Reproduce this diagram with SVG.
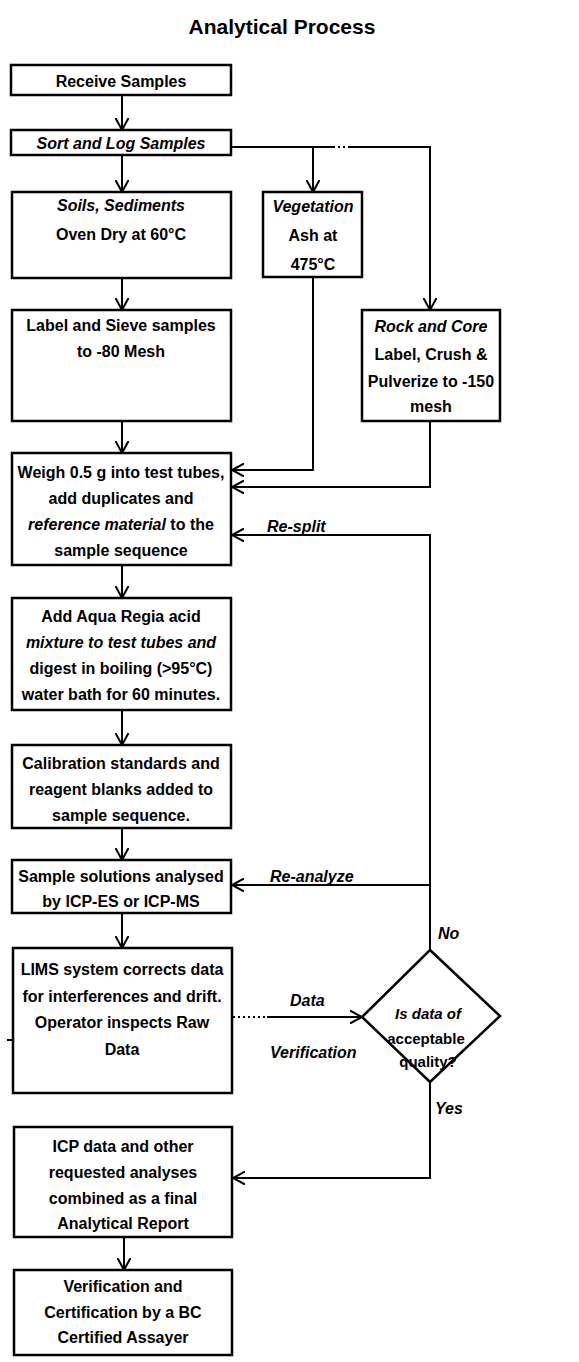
<svg xmlns="http://www.w3.org/2000/svg" width="579" height="1362" viewBox="0 0 579 1362">
<defs>
<style>
.box{fill:#fff;stroke:#000;stroke-width:2.5}
.t{font-family:"Liberation Sans",Arial,sans-serif;font-size:16px;font-weight:bold;text-anchor:middle;fill:#000}
.s{font-size:15px}
.i{font-style:italic}
.c{fill:none;stroke:#000;stroke-width:2}
.d{fill:none;stroke:#000;stroke-width:2;stroke-dasharray:2 3}
.lbl{font-family:"Liberation Sans",Arial,sans-serif;font-size:16px;font-weight:bold;font-style:italic;fill:#000}
</style>
<marker id="ah" viewBox="0 0 14 14" refX="12" refY="7" markerWidth="14" markerHeight="14" markerUnits="userSpaceOnUse" orient="auto">
<path d="M0,0.5 L12,7 L0,13.5" fill="none" stroke="#000" stroke-width="2"/>
</marker>
</defs>
<rect width="579" height="1362" fill="#fff"/>
<text x="282" y="34" font-family="Liberation Sans,Arial,sans-serif" font-size="21" font-weight="bold" text-anchor="middle">Analytical Process</text>

<g id="connectors">
<line class="c" x1="122" y1="95" x2="122" y2="130" marker-end="url(#ah)"/>
<line class="c" x1="122" y1="155" x2="122" y2="192" marker-end="url(#ah)"/>
<line class="c" x1="231" y1="147" x2="333" y2="147"/>
<line class="d" x1="333" y1="147" x2="350" y2="147"/>
<polyline class="c" points="350,147 430,147 430,310" marker-end="url(#ah)"/>
<line class="c" x1="313" y1="147" x2="313" y2="192" marker-end="url(#ah)"/>
<line class="c" x1="122" y1="278" x2="122" y2="310" marker-end="url(#ah)"/>
<polyline class="c" points="313,277 313,470 232,470" marker-end="url(#ah)"/>
<polyline class="c" points="430,421 430,487 232,487" marker-end="url(#ah)"/>
<line class="c" x1="122" y1="421" x2="122" y2="453" marker-end="url(#ah)"/>
<line class="c" x1="122" y1="565" x2="122" y2="598" marker-end="url(#ah)"/>
<line class="c" x1="122" y1="710" x2="122" y2="745" marker-end="url(#ah)"/>
<line class="c" x1="122" y1="828" x2="122" y2="860" marker-end="url(#ah)"/>
<line class="c" x1="122" y1="913" x2="122" y2="948" marker-end="url(#ah)"/>
<polyline class="c" points="430,950 430,535 232,535" marker-end="url(#ah)"/>
<line class="c" x1="430" y1="885" x2="232" y2="885" marker-end="url(#ah)"/>
<line class="d" x1="233" y1="1017" x2="267" y2="1017"/>
<line class="c" x1="267" y1="1017" x2="362" y2="1017" marker-end="url(#ah)"/>
<polyline class="c" points="430,1082 430,1178 233,1178" marker-end="url(#ah)"/>
<line class="c" x1="124" y1="1237" x2="124" y2="1270" marker-end="url(#ah)"/>
<line class="c" x1="7" y1="1040" x2="19" y2="1040"/>
<text class="lbl" x="267" y="532">Re-split</text>
<text class="lbl" x="270" y="882">Re-analyze</text>
<text class="lbl" x="438" y="939">No</text>
<text class="lbl" x="290" y="1006">Data</text>
<text class="lbl" x="270" y="1058">Verification</text>
<text class="lbl" x="435" y="1114">Yes</text>
</g>

<g id="receive">
<rect class="box" x="11" y="65" width="220" height="30"/>
<text class="t" x="121" y="87">Receive Samples</text>
</g>
<g id="sort">
<rect class="box" x="11" y="130" width="220" height="25"/>
<text class="t i" x="121" y="149">Sort and Log Samples</text>
</g>
<g id="soils">
<rect class="box" x="12" y="192" width="219" height="86"/>
<text class="t i" x="121" y="211">Soils, Sediments</text>
<text class="t" x="121" y="240">Oven Dry at 60°C</text>
</g>
<g id="vegetation">
<rect class="box" x="263" y="192" width="99" height="85"/>
<text class="t i" x="313" y="212">Vegetation</text>
<text class="t" x="313" y="241">Ash at</text>
<text class="t" x="313" y="270">475°C</text>
</g>
<g id="sieve">
<rect class="box" x="12" y="310" width="219" height="111"/>
<text class="t" x="121" y="331">Label and Sieve samples</text>
<text class="t" x="121" y="357">to -80 Mesh</text>
</g>
<g id="rock">
<rect class="box" x="362" y="310" width="138" height="111"/>
<text class="t i" x="431" y="332">Rock and Core</text>
<text class="t" x="431" y="360">Label, Crush &amp;</text>
<text class="t" x="431" y="387">Pulverize to -150</text>
<text class="t" x="431" y="412">mesh</text>
</g>
<g id="weigh">
<rect class="box" x="12" y="453" width="219" height="112"/>
<text class="t" x="121" y="478">Weigh 0.5 g into test tubes,</text>
<text class="t" x="121" y="504">add duplicates and</text>
<text class="t" x="121" y="530"><tspan class="i">reference material</tspan> to the</text>
<text class="t" x="121" y="556">sample sequence</text>
</g>
<g id="aqua">
<rect class="box" x="12" y="598" width="219" height="112"/>
<text class="t" x="121" y="622">Add Aqua Regia acid</text>
<text class="t i" x="121" y="648">mixture to test tubes and</text>
<text class="t" x="121" y="674">digest in boiling (&gt;95°C)</text>
<text class="t" x="121" y="700">water bath for 60 minutes.</text>
</g>
<g id="calibration">
<rect class="box" x="12" y="745" width="219" height="83"/>
<text class="t" x="121" y="769">Calibration standards and</text>
<text class="t" x="121" y="795">reagent blanks added to</text>
<text class="t" x="121" y="821">sample sequence.</text>
</g>
<g id="analyse">
<rect class="box" x="12" y="860" width="219" height="53"/>
<text class="t" x="121" y="882">Sample solutions analysed</text>
<text class="t" x="121" y="907">by ICP-ES or ICP-MS</text>
</g>
<g id="lims">
<rect class="box" x="13" y="948" width="219" height="145"/>
<text class="t" x="122" y="975">LIMS system corrects data</text>
<text class="t" x="122" y="1002">for interferences and drift.</text>
<text class="t" x="122" y="1028">Operator inspects Raw</text>
<text class="t" x="122" y="1055">Data</text>
</g>
<g id="decision">
<polygon class="box" points="430,950 500,1016 430,1082 362,1017"/>
<text class="t s" x="428" y="1019"><tspan class="i">Is data of</tspan></text>
<text class="t s" x="426" y="1044">acceptable</text>
<text class="t s" x="428" y="1067">quality?</text>
</g>
<g id="report">
<rect class="box" x="14" y="1127" width="218" height="110"/>
<text class="t" x="123" y="1152">ICP data and other</text>
<text class="t" x="123" y="1178">requested analyses</text>
<text class="t" x="123" y="1204">combined as a final</text>
<text class="t" x="123" y="1229">Analytical Report</text>
</g>
<g id="certification">
<rect class="box" x="14" y="1270" width="218" height="85"/>
<text class="t" x="123" y="1292">Verification and</text>
<text class="t" x="123" y="1318">Certification by a BC</text>
<text class="t" x="123" y="1343">Certified Assayer</text>
</g>
</svg>
